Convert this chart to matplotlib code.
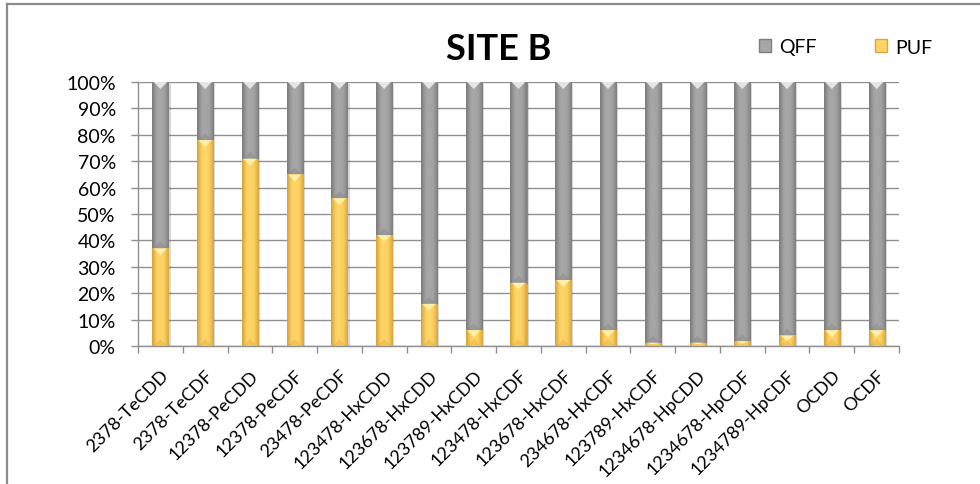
import numpy as np
import matplotlib
matplotlib.use("Agg")
import matplotlib.pyplot as plt
from matplotlib.patches import Patch, Polygon
from matplotlib.lines import Line2D
from matplotlib.colors import LinearSegmentedColormap
import matplotlib.patheffects as pe

plt.rcParams["font.family"] = ["Lato", "DejaVu Sans"]

categories = ["2378-TeCDD", "2378-TeCDF", "12378-PeCDD", "12378-PeCDF",
              "23478-PeCDF", "123478-HxCDD", "123678-HxCDD", "123789-HxCDD",
              "123478-HxCDF", "123678-HxCDF", "234678-HxCDF", "123789-HxCDF",
              "1234678-HpCDD", "1234678-HpCDF", "1234789-HpCDF", "OCDD", "OCDF"]
puf = [37, 78, 71, 65, 56, 42, 16, 6, 24, 25, 6, 1.3, 1.3, 1.8, 4, 6, 6]
qff = [100 - v for v in puf]
yticks = [0, 10, 20, 30, 40, 50, 60, 70, 80, 90, 100]
ytick_labels = [f"{t}%" for t in yticks]

GRAY = "#A6A6A6"
GRAY_DARK = "#7E7E7E"
GRAY_LIGHT = "#EDEDED"
GOLD = "#FFD466"
GOLD_DARK = "#D9A63C"
GOLD_LIGHT = "#FFF3B0"
GRID = "#8F8F8F"

fig = plt.figure(figsize=(9.8, 4.85), dpi=100)
ax = fig.add_axes([138 / 980, 1 - 347 / 485, (899 - 138) / 980, (347 - 83) / 485])

x = np.arange(len(categories))
width = 0.36
shadow = [pe.SimplePatchShadow(offset=(1.5, -1.5), alpha=0.25, shadow_rgbFace="#606060"), pe.Normal()]

bars_puf = ax.bar(x, puf, width, color=GOLD, edgecolor=GOLD_DARK, linewidth=0.6,
                  zorder=3, label="PUF")
bars_qff = ax.bar(x, qff, width, bottom=puf, color=GRAY, edgecolor=GRAY_DARK,
                  linewidth=0.6, zorder=3, label="QFF")
for b in list(bars_puf) + list(bars_qff):
    b.set_path_effects(shadow)

profile = np.array([[0.0, 0.45, 0.8, 1.0, 1.0, 1.0, 0.95, 0.8, 0.5, 0.1]])
ypix = 100 / 264.0  # data units per pixel on the value axis


def bevel(rect, face, dark, light):
    x0, y0 = rect.get_x(), rect.get_y()
    w, h = rect.get_width(), rect.get_height()
    cmap = LinearSegmentedColormap.from_list("b", [dark, face])
    im = ax.imshow(profile, cmap=cmap, vmin=0, vmax=1, aspect="auto",
                   extent=(x0, x0 + w, y0, y0 + h), zorder=3.5,
                   interpolation="bilinear")
    im.set_clip_path(rect)
    tri = min(7 * ypix, h / 2)
    top = Polygon([(x0 + w * 0.08, y0 + h), (x0 + w * 0.92, y0 + h),
                   (x0 + w / 2, y0 + h - tri)], closed=True,
                  facecolor=light, edgecolor="none", alpha=0.9, zorder=4)
    ax.add_patch(top)
    bot = Polygon([(x0 + w * 0.08, y0), (x0 + w * 0.92, y0),
                   (x0 + w / 2, y0 + tri)], closed=True,
                  facecolor=dark, edgecolor="none", alpha=0.35, zorder=4)
    ax.add_patch(bot)


for b in bars_puf:
    bevel(b, GOLD, GOLD_DARK, GOLD_LIGHT)
for b in bars_qff:
    bevel(b, GRAY, GRAY_DARK, GRAY_LIGHT)

ax.set_xlim(-0.5, len(categories) - 0.5)
ax.set_ylim(0, 100)
ax.set_yticks(yticks)
ax.set_yticklabels(ytick_labels, fontsize=14)
ax.set_xticks(x)
ax.set_xticklabels(categories, fontsize=13, rotation=45, ha="right",
                   va="top", rotation_mode="anchor")
ax.tick_params(axis="x", length=0, pad=15)
ax.set_xticks(np.arange(len(categories) + 1) - 0.5, minor=True)
ax.tick_params(axis="x", which="minor", length=5, color=GRID, width=1)
ax.tick_params(axis="y", length=5, color=GRID, width=1, pad=11)
ax.yaxis.grid(True, color=GRID, linewidth=1, zorder=0)
ax.set_axisbelow(True)
for side in ("top", "right"):
    ax.spines[side].set_visible(False)
for side in ("left", "bottom"):
    ax.spines[side].set_color(GRID)
    ax.spines[side].set_linewidth(1)

fig.text(499 / 980, 1 - 50 / 485, "SITE B", fontsize=26, fontweight="bold",
         ha="center", va="center")

handles = [Patch(facecolor=GRAY, edgecolor=GRAY_DARK, label="QFF"),
           Patch(facecolor=GOLD, edgecolor=GOLD_DARK, label="PUF")]
fig.legend(handles=handles, loc="center left", ncol=2, frameon=False,
           bbox_to_anchor=(759 / 980, 1 - 48 / 485), fontsize=14,
           handlelength=0.6, handleheight=0.6, handletextpad=0.45,
           columnspacing=3.0, borderpad=0, borderaxespad=0)

# chart frame along the top and left edges
fig.add_artist(Line2D([7 / 980, 1.0], [1 - 5 / 485, 1 - 5 / 485],
                      transform=fig.transFigure, color="#8C8C8C", linewidth=1.6))
fig.add_artist(Line2D([7 / 980, 7 / 980], [0, 1 - 5 / 485],
                      transform=fig.transFigure, color="#8C8C8C", linewidth=1.6))

fig.savefig("out.png", dpi=100, facecolor="white")
